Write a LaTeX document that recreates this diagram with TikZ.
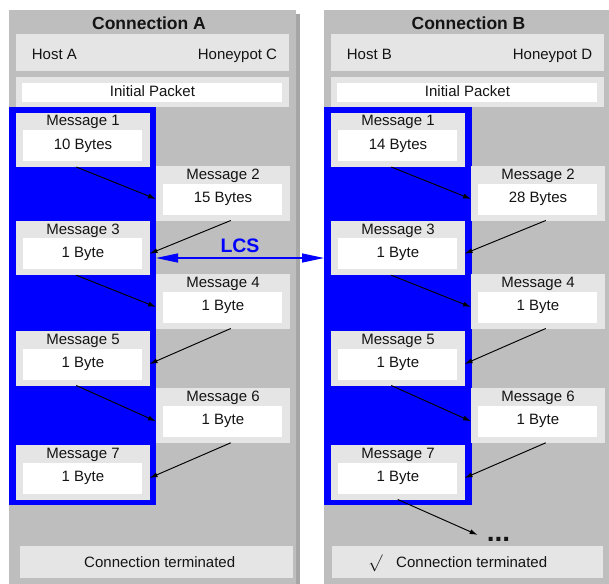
\documentclass[tikz,border=0pt]{standalone}
\usepackage{fontspec}
\setmainfont{Liberation Sans}
\usetikzlibrary{arrows.meta}
\definecolor{panelgray}{RGB}{190,190,190}
\definecolor{boxgray}{RGB}{229,229,229}
\definecolor{shadowgray}{RGB}{166,166,166}
\definecolor{lcsblue}{RGB}{0,0,255}
\definecolor{inkcol}{RGB}{20,20,20}
\newcommand{\msgbox}[5]{%
  \node[rect, fill=boxgray, minimum width=133.5pt, minimum height=54.5pt] (#1) at (#2,#3) {};
  \node[rect, fill=white, minimum width=119.5pt, minimum height=31pt] (#1w) at ({#2+6.5},{#3+17.5}) {};
  \node[txt] (#1t) at ({#2+67},{#3+13.3}) {#4};
  \node[txt] (#1c) at ({#2+67},{#3+36.6}) {#5};
}
\begin{document}
\begin{tikzpicture}[x=1pt,y=-1pt,
  rect/.style={draw=none, anchor=north west, inner sep=0pt, outer sep=0pt},
  txt/.style={font=\fontsize{15}{18}\selectfont, text=inkcol, inner sep=0pt, anchor=base},
  hdr/.style={font=\fontsize{17.5}{20}\selectfont\bfseries, text=inkcol, inner sep=0pt, anchor=base},
  flow/.style={-{Latex[length=8pt,width=5pt]}, line width=0.95pt, draw=black},
  lcsarrow/.style={{Triangle[length=22pt,width=9pt]}-{Triangle[length=22pt,width=9pt]}, line width=1.2pt, draw=lcsblue, fill=lcsblue}]
\clip (0,0) rectangle (609,583);
\useasboundingbox (0,0) rectangle (609,583);
\fill[white] (0,0) rectangle (609,583);
% ---------------- Panel A ----------------
\node[rect, fill=shadowgray, minimum width=287pt, minimum height=600pt] (shA) at (13,14) {};
\node[rect, fill=panelgray, minimum width=287pt, minimum height=600pt] (panA) at (9,10) {};
\node[rect, fill=lcsblue, minimum width=147.5pt, minimum height=398pt] (blueA) at (8.5,107) {};
\node[hdr] (hdA) at (149,29.3) {Connection A};
\node[rect, fill=boxgray, minimum width=273pt, minimum height=36.7pt] (hostA) at (16,34.3) {};
\node[txt, anchor=base west] (hA) at (31.7,59.3) {Host A};
\node[txt, anchor=base east] (hpA) at (277.3,59.3) {Honeypot C};
\node[rect, fill=boxgray, minimum width=273pt, minimum height=30.6pt] (ipA) at (16,76.7) {};
\node[rect, fill=white, minimum width=259.4pt, minimum height=19pt] (ipwA) at (22.3,82.7) {};
\node[txt] (iptA) at (152.5,96.7) {Initial Packet};
\msgbox{m1A}{16}{112.5}{Message 1}{10 Bytes}
\msgbox{m2A}{156}{166}{Message 2}{15 Bytes}
\msgbox{m3A}{16}{220.7}{Message 3}{1 Byte}
\msgbox{m4A}{156}{274}{Message 4}{1 Byte}
\msgbox{m5A}{16}{331}{Message 5}{1 Byte}
\msgbox{m6A}{156}{388.3}{Message 6}{1 Byte}
\msgbox{m7A}{16}{445}{Message 7}{1 Byte}
\node[rect, fill=boxgray, minimum width=273.3pt, minimum height=31.5pt] (ctA) at (20,546) {};
\node[txt] (cttA) at (159.7,567.7) {Connection terminated};
\draw[flow] ([xshift=-6.5pt]m1A.south) -- (m2A.west |- m2Aw);
\draw[flow] ([xshift=8pt]m2A.south) -- (m3A.east |- m3Aw);
\draw[flow] ([xshift=-6.5pt]m3A.south) -- (m4A.west |- m4Aw);
\draw[flow] ([xshift=8pt]m4A.south) -- (m5A.east |- m5Aw);
\draw[flow] ([xshift=-6.5pt]m5A.south) -- (m6A.west |- m6Aw);
\draw[flow] ([xshift=8pt]m6A.south) -- (m7A.east |- m7Aw);
% ---------------- Panel B ----------------
\begin{scope}[xshift=315pt]
\node[rect, fill=shadowgray, minimum width=287pt, minimum height=600pt] (shB) at (13,14) {};
\node[rect, fill=panelgray, minimum width=287pt, minimum height=600pt] (panB) at (9,10) {};
\node[rect, fill=lcsblue, minimum width=147.5pt, minimum height=398pt] (blueB) at (9,107) {};
\node[hdr] (hdB) at (153.5,29.3) {Connection B};
\node[rect, fill=boxgray, minimum width=273pt, minimum height=36.7pt] (hostB) at (16,34.3) {};
\node[txt, anchor=base west] (hB) at (31.7,59.3) {Host B};
\node[txt, anchor=base east] (hpB) at (277.3,59.3) {Honeypot D};
\node[rect, fill=boxgray, minimum width=273pt, minimum height=30.6pt] (ipB) at (16,76.7) {};
\node[rect, fill=white, minimum width=259.4pt, minimum height=19pt] (ipwB) at (22.3,82.7) {};
\node[txt] (iptB) at (152.5,96.7) {Initial Packet};
\msgbox{m1B}{16}{112.5}{Message 1}{14 Bytes}
\msgbox{m2B}{156}{166}{Message 2}{28 Bytes}
\msgbox{m3B}{16}{220.7}{Message 3}{1 Byte}
\msgbox{m4B}{156}{274}{Message 4}{1 Byte}
\msgbox{m5B}{16}{331}{Message 5}{1 Byte}
\msgbox{m6B}{156}{388.3}{Message 6}{1 Byte}
\msgbox{m7B}{16}{445}{Message 7}{1 Byte}
\node[rect, fill=boxgray, minimum width=271.6pt, minimum height=31.5pt] (ctB) at (16.7,546) {};
\node[txt] (cttB) at (156.7,567.7) {Connection terminated};
\node[inner sep=0pt, scale=1.7, text=inkcol] (chkB) at (60.5,563.5) {$\surd$};
\node[font=\fontsize{28}{30}\selectfont\bfseries, text=inkcol, anchor=base, inner xsep=9pt, inner ysep=0pt] (dotsB) at (183.5,541) {...};
\draw[flow] ([xshift=-6.5pt]m1B.south) -- (m2B.west |- m2Bw);
\draw[flow] ([xshift=8pt]m2B.south) -- (m3B.east |- m3Bw);
\draw[flow] ([xshift=-6.5pt]m3B.south) -- (m4B.west |- m4Bw);
\draw[flow] ([xshift=8pt]m4B.south) -- (m5B.east |- m5Bw);
\draw[flow] ([xshift=-6.5pt]m5B.south) -- (m6B.west |- m6Bw);
\draw[flow] ([xshift=8pt]m6B.south) -- (m7B.east |- m7Bw);
\draw[flow] (m7B.south) -- ([yshift=4pt]dotsB.west);
\end{scope}
% ---------------- LCS ----------------
\coordinate (lcsy) at (0,258);
\draw[lcsarrow] (blueA.east |- lcsy) -- (blueB.west |- lcsy);
\node[font=\fontsize{19.5}{22}\selectfont\bfseries, text=lcsblue, inner sep=0pt, anchor=base] (lcs) at (240,252.7) {LCS};
\end{tikzpicture}
\end{document}
